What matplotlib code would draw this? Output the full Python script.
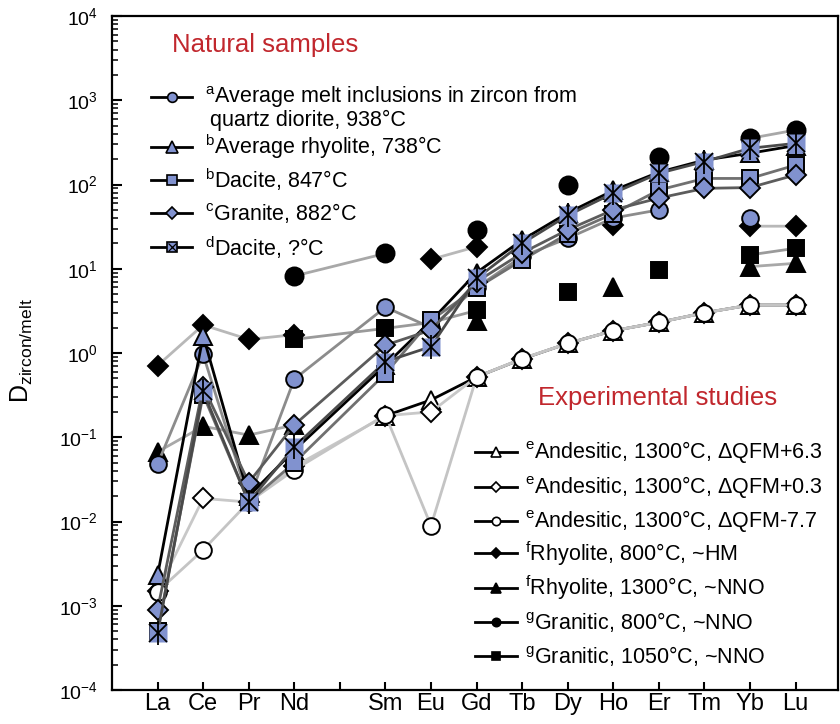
import numpy as np
import matplotlib
matplotlib.use('Agg')
import matplotlib.pyplot as plt

plt.rcParams['font.family'] = ['Liberation Sans', 'DejaVu Sans']
plt.rcParams['mathtext.fontset'] = 'custom'
plt.rcParams['mathtext.rm'] = 'Liberation Sans'
plt.rcParams['mathtext.it'] = 'Liberation Sans:italic'
plt.rcParams['mathtext.bf'] = 'Liberation Sans:bold'

nan = np.nan

# REE order (Pm has a tick but no data)
elements = ['La', 'Ce', 'Pr', 'Nd', 'Sm', 'Eu', 'Gd', 'Tb', 'Dy', 'Ho', 'Er', 'Tm', 'Yb', 'Lu']
atomic_numbers = [57, 58, 59, 60, 62, 63, 64, 65, 66, 67, 68, 69, 70, 71]
tick_numbers = list(range(57, 72))
tick_labels = ['La', 'Ce', 'Pr', 'Nd', '', 'Sm', 'Eu', 'Gd', 'Tb', 'Dy', 'Ho', 'Er', 'Tm', 'Yb', 'Lu']
decades = list(range(-4, 5))

# Natural samples
melt_incl = [0.048, 0.96, 0.018, 0.49, 3.5, 2.0, 6.0, 14, 23, 40, 50, nan, 40, nan]
rhyolite_738 = [0.0023, 1.6, 0.020, 0.07, 0.72, 2.4, 9.0, 22, 46, 85, 140, 195, 235, 290]
dacite_847 = [0.0005, 0.32, 0.017, 0.05, 0.57, 2.45, 5.9, 12.7, 26, 45, 86, 118, 118, 170]
granite_882 = [0.0009, 0.40, 0.029, 0.14, 1.24, 1.87, 7.0, 15.4, 29, 50, 69, 90, 92, 130]
dacite_unk = [0.00047, 0.35, 0.017, 0.077, 0.79, 1.19, 7.7, 20, 43, 79, 136, 187, 269, 308]

# Experimental studies
andes_p63 = [nan, nan, nan, nan, 0.18, 0.277, 0.52, 0.85, 1.30, 1.84, 2.31, 3.0, 3.71, 3.71]
andes_p03 = [0.0015, 0.0188, 0.017, 0.045, 0.18, 0.20, 0.52, 0.85, 1.30, 1.84, 2.31, 3.0, 3.71, 3.71]
andes_m77 = [0.00147, 0.0046, 0.017, 0.041, 0.184, 0.0089, 0.52, 0.86, 1.30, 1.84, 2.31, 3.0, 3.71, 3.71]
rhy_800_hm = [0.71, 2.15, 1.45, 1.65, nan, 12.9, 18.3, nan, nan, 33, nan, nan, 32, 32]
rhy_1300_nno = [0.067, 0.135, 0.106, 0.14, nan, nan, 2.4, nan, nan, 6.1, nan, nan, 10.6, 11.6]
gran_800_nno = [nan, nan, nan, 8.2, 15.2, nan, 29, nan, 98, nan, 214, nan, 353, 443]
gran_1050_nno = [nan, nan, nan, 1.45, 1.96, 2.3, 3.2, nan, 5.3, nan, 9.7, nan, 14.6, 17.5]

BLUE = '#8192cf'
RED = '#c1272d'

fig = plt.figure(figsize=(8.4, 7.24), dpi=100)
ax = fig.add_axes([112 / 840, 34 / 724, 726 / 840, 674 / 724])

# experimental series: (values, line colour, marker, face, size)
experimental = [
    (andes_p63, 'black', '^', 'white', 13),
    (andes_p03, '#c8c8c8', 'D', 'white', 10.5),
    (andes_m77, '#c4c4c4', 'o', 'white', 12),
    (rhy_800_hm, '#b8b8b8', 'D', 'black', 10.5),
    (rhy_1300_nno, '#a8a8a8', '^', 'black', 13),
    (gran_800_nno, '#a8a8a8', 'o', 'black', 13),
    (gran_1050_nno, '#9a9a9a', 's', 'black', 12),
]
for vals, lc, mk, fc, ms in experimental:
    ax.plot(atomic_numbers, vals, color=lc, lw=2, marker=mk, mfc=fc, mec='black',
            mew=1.4, ms=ms, zorder=2)

natural = [
    (melt_incl, '#8c8c8c', 'o', 12),
    (rhyolite_738, 'black', '^', 13),
    (dacite_847, '#707070', 's', 12),
    (granite_882, '#5c5c5c', 'D', 10.5),
]
for vals, lc, mk, ms in natural:
    ax.plot(atomic_numbers, vals, color=lc, lw=2, marker=mk, mfc=BLUE, mec='black',
            mew=1.4, ms=ms, zorder=3)

ax.plot(atomic_numbers, dacite_unk, color='#4a4a4a', lw=2, marker='s', mfc=BLUE,
        mec='none', ms=13.5, zorder=3)
ax.plot(atomic_numbers, dacite_unk, ls='none', marker='x', mec='black', mew=1.3, ms=13.5, zorder=4)
ax.plot(atomic_numbers, dacite_unk, ls='none', marker='|', mec='black', mew=1.3, ms=17, zorder=4)

# axes
ax.set_yscale('log')
ax.set_ylim(1e-4, 1e4)
ax.set_xlim(56, 71.93)
ax.set_xticks(tick_numbers)
ax.set_xticklabels(tick_labels)
ax.set_yticks([10.0 ** k for k in decades])
ax.set_yticklabels([r'$10^{%d}$' % k for k in decades])
ax.set_yticks([m * 10.0 ** k for k in decades[:-1] for m in range(2, 10)], minor=True)
ax.yaxis.set_minor_formatter(matplotlib.ticker.NullFormatter())
ax.tick_params(axis='y', which='major', direction='in', length=7, width=1.5, labelsize=14, pad=10)
ax.tick_params(axis='y', which='minor', direction='in', length=4, width=1.1)
ax.tick_params(axis='x', direction='in', length=6, width=1.5, labelsize=17, pad=2)
for sp in ax.spines.values():
    sp.set_linewidth(1.6)

fig.text(22 / 840, 1 - 351 / 724, r'D$_{\mathrm{zircon/melt}}$', rotation=90,
         fontsize=18, ha='center', va='center')

ax.text(0.2107, 0.957, 'Natural samples', color=RED, fontsize=18.5,
        ha='center', va='center', transform=ax.transAxes)
ax.text(0.751, 0.4337, 'Experimental studies', color=RED, fontsize=18.5,
        ha='center', va='center', transform=ax.transAxes)


# hand-made legends, laid out like the original
def legend_row(x0, x1, y, marker, face, ms, label, tx, fs, cross=False):
    ax.plot([x0, x1], [y, y], color='black', lw=2, transform=ax.transAxes,
            clip_on=False, zorder=5)
    xm = (x0 + x1) / 2
    ax.plot([xm], [y], marker=marker, mfc=face, mec='black', mew=1.2, ms=ms,
            transform=ax.transAxes, clip_on=False, zorder=6)
    if cross:
        ax.plot([xm], [y], marker='x', mec='black', mew=0.9, ms=ms * 0.8,
                transform=ax.transAxes, clip_on=False, zorder=7)
    ax.text(tx, y, label, fontsize=fs, ha='left', va='center',
            transform=ax.transAxes, zorder=6)


nat_rows = [
    (0.8803, 'o', 7, r'$^{\mathrm{a}}$Average melt inclusions in zircon from', False),
    (0.8061, '^', 8, r'$^{\mathrm{b}}$Average rhyolite, 738°C', False),
    (0.7567, 's', 7.5, r'$^{\mathrm{b}}$Dacite, 847°C', False),
    (0.7077, 'D', 6.5, r'$^{\mathrm{c}}$Granite, 882°C', False),
    (0.6568, 's', 7.5, r'$^{\mathrm{d}}$Dacite, ?°C', True),
]
for y, mk, ms, lab, cr in nat_rows:
    legend_row(0.0541, 0.1105, y, mk, BLUE, ms, lab, 0.128, 15.5, cross=cr)
ax.text(0.1350, 0.8450, 'quartz diorite, 938°C', fontsize=15.5, ha='left', va='center',
        transform=ax.transAxes)

exp_rows = [
    (0.3527, '^', 'white', 6.5, r'$^{\mathrm{e}}$Andesitic, 1300°C, ΔQFM+6.3'),
    (0.3016, 'D', 'white', 5, r'$^{\mathrm{e}}$Andesitic, 1300°C, ΔQFM+0.3'),
    (0.2512, 'o', 'white', 6, r'$^{\mathrm{e}}$Andesitic, 1300°C, ΔQFM-7.7'),
    (0.2028, 'D', 'black', 5, r'$^{\mathrm{f}}$Rhyolite, 800°C, ~HM'),
    (0.1518, '^', 'black', 6.5, r'$^{\mathrm{f}}$Rhyolite, 1300°C, ~NNO'),
    (0.1013, 'o', 'black', 6, r'$^{\mathrm{g}}$Granitic, 800°C, ~NNO'),
    (0.0509, 's', 'black', 6, r'$^{\mathrm{g}}$Granitic, 1050°C, ~NNO'),
]
for y, mk, fc, ms, lab in exp_rows:
    legend_row(0.5, 0.5574, y, mk, fc, ms, lab, 0.5689, 15.5)

fig.savefig('out.png', dpi=100)
